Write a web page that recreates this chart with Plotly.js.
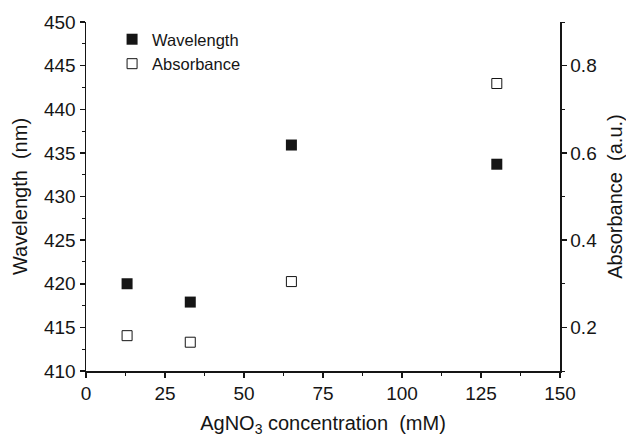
<!DOCTYPE html>
<html>
<head>
<meta charset="utf-8">
<script src="https://cdn.plot.ly/plotly-3.0.1.min.js"></script>
<style>html,body{margin:0;padding:0;background:#fff;}#chart{width:626px;height:437px;}</style>
</head>
<body>
<div id="chart"></div>
<script>
const concentration = [13, 33, 65, 130];
const wavelength = [420, 417.9, 435.9, 433.7];
const absorbance = [0.181, 0.166, 0.305, 0.759];

const fontFam = '"Liberation Sans", Arial, sans-serif';
const ink = '#151515';

const traces = [
  {
    x: concentration, y: wavelength, name: 'Wavelength', type: 'scatter', mode: 'markers',
    marker: {symbol: 'square', size: 11, color: ink, line: {width: 0}},
    yaxis: 'y'
  },
  {
    x: concentration, y: absorbance, name: 'Absorbance', type: 'scatter', mode: 'markers',
    marker: {symbol: 'square-open', size: 10, color: ink, line: {width: 1}},
    yaxis: 'y2'
  }
];

const layout = {
  width: 626, height: 437,
  margin: {l: 86, r: 66, t: 22, b: 66},
  paper_bgcolor: '#fff', plot_bgcolor: '#fff',
  font: {family: fontFam, size: 19, color: ink},
  showlegend: true,
  legend: {x: 0.055, y: 1.0, xanchor: 'left', yanchor: 'top', bgcolor: 'rgba(0,0,0,0)',
           font: {size: 16.5, family: fontFam, color: ink}, itemwidth: 30, tracegroupgap: 0},
  xaxis: {
    range: [0, 150], tickvals: [0, 25, 50, 75, 100, 125, 150], ticktext: ['0','25','50','75','100','125','150'],
    showline: true, linecolor: ink, linewidth: 1.5, mirror: false, zeroline: false, showgrid: false,
    ticks: 'outside', ticklen: 5, tickwidth: 1.5, tickcolor: ink,
    minor: {dtick: 12.5, ticks: 'outside', ticklen: 3, tickwidth: 1, tickcolor: ink, showgrid: false},
    tickfont: {size: 19}, automargin: false,
    title: {text: 'AgNO<sub>3</sub> concentration  (mM)', font: {size: 20}, standoff: 15}
  },
  yaxis: {
    range: [410, 450], dtick: 5,
    showline: true, linecolor: ink, linewidth: 1.5, zeroline: false, showgrid: false,
    ticks: 'outside', ticklen: 5, tickwidth: 1.5, tickcolor: ink,
    minor: {dtick: 2.5, ticks: 'outside', ticklen: 3, tickwidth: 1, tickcolor: ink, showgrid: false},
    tickfont: {size: 19}, automargin: false,
    title: {text: 'Wavelength  (nm)', font: {size: 20}, standoff: 11}
  },
  yaxis2: {
    range: [0.1, 0.9], tickvals: [0.2, 0.4, 0.6, 0.8], ticktext: ['0.2','0.4','0.6','0.8'],
    overlaying: 'y', side: 'right',
    showline: true, linecolor: ink, linewidth: 1.5, zeroline: false, showgrid: false,
    ticks: 'outside', ticklen: 5, tickwidth: 1.5, tickcolor: ink,
    minor: {dtick: 0.1, ticks: 'outside', ticklen: 3, tickwidth: 1, tickcolor: ink, showgrid: false},
    tickfont: {size: 19}, automargin: false,
    title: {text: 'Absorbance  (a.u.)', font: {size: 20}, standoff: 12}
  }
};

Plotly.newPlot('chart', traces, layout, {displayModeBar: false, staticPlot: true});
</script>
</body>
</html>
